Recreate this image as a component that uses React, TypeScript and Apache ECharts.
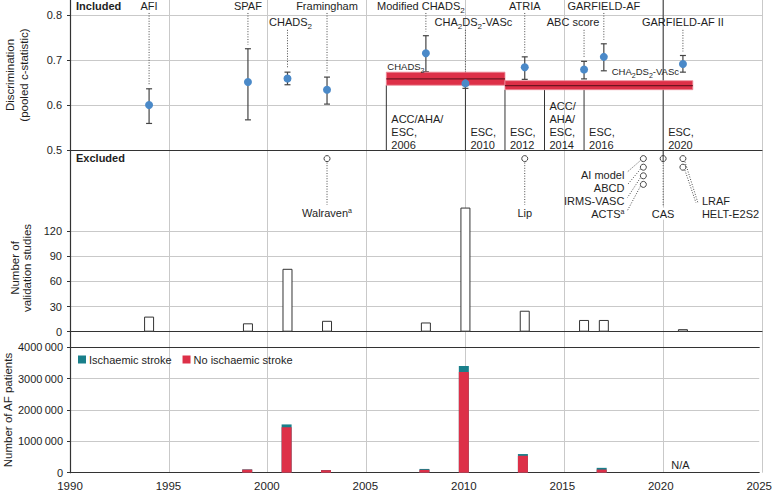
import React, { useEffect, useRef } from "react";
import * as echarts from "echarts";

// ---------------- data ----------------
const yearTicks = [1990, 1995, 2000, 2005, 2010, 2015, 2020, 2025];
const cStatTicks = [0.5, 0.6, 0.7, 0.8];
const studyTicks = [0, 30, 60, 90, 120];
const patientTicks = [0, 1000000, 2000000, 3000000, 4000000];

const includedNames = ["AFI", "SPAF", "CHADS2", "Framingham", "Modified CHADS2", "CHA2DS2-VASc", "ATRIA", "ABC score", "GARFIELD-AF", "GARFIELD-AF II"];
const includedYears = [1994, 1999, 2001, 2003, 2008, 2010, 2013, 2016, 2017, 2021];
const includedCStat = [0.600, 0.651, 0.659, 0.634, 0.715, 0.648, 0.684, 0.679, 0.707, 0.691];
const includedLow = [0.559, 0.567, 0.645, 0.602, 0.674, 0.637, 0.657, 0.658, 0.676, 0.673];
const includedHigh = [0.636, 0.725, 0.673, 0.662, 0.754, 0.659, 0.707, 0.697, 0.736, 0.710];

const bandNames = ["CHADS2", "CHA2DS2-VASc"];
const bandStart = [2006, 2012];
const bandEnd = [2012, 2021.5];
const bandMid = [0.658, 0.643];
const bandLow = [0.644, 0.634];
const bandHigh = [0.673, 0.654];

const guidelineYears = [2006, 2010, 2012, 2014, 2016, 2020];
const guidelineLabels = ["ACC/AHA/\nESC,\n2006", "ESC,\n2010", "ESC,\n2012", "ACC/\nAHA/\nESC,\n2014", "ESC,\n2016", "ESC,\n2020"];

const excludedNames = ["Walraven", "Lip", "AI model", "ABCD", "IRMS-VASC", "ACTS", "CAS", "LRAF", "HELT-E2S2"];
const excludedYears = [2003, 2013, 2019, 2019, 2019, 2019, 2020, 2021, 2021];
const excludedSup = [true, false, false, false, false, true, false, false, false];

const studyYears = [1994, 1999, 2001, 2003, 2008, 2010, 2013, 2016, 2017, 2021];
const studyCounts = [18, 10, 75, 13, 11, 148, 25, 14, 14, 3];

const patientYears = [1999, 2001, 2003, 2008, 2010, 2013, 2017];
const patientsNoStroke = [100000, 1450000, 80000, 90000, 3210000, 540000, 100000];
const patientsStroke = [6000, 90000, 6000, 30000, 190000, 55000, 55000];
const naYear = [2021];

// ---------------- layout / style ----------------
const FONT = "'Liberation Sans', Arial, Helvetica, sans-serif";
const INK = "#1e1e1e";
const AXIS = "#333333";
const GRIDC = "#c9c9c9";
const DOT = "#4a89c8";
const RED = "#dd3048";
const REDLINE = "#6e1420";
const TEAL = "#197f8a";
const LEADER = "#4a4a4a";

const LEFT = 70;
const RIGHT = 13;
const C_MAX = 0.8 + 15 / 450;

const incLabelRow = [0, 0, 1, 0, 0, 1, 0, 1, 0, 1];
const incLabelDx = [0, 0, 3, 0, -5, 8, 0, -11, 0, 0];
const rowLabelValue = [0.82, 0.784];
const rowLeaderTop = [0.8045, 0.767];
const LEADER_GAP = 0.009;

const bandLabelYear = [2006, 2017.35];
const bandLabelDy = [-6, -9];

const guidelineFull = [false, false, false, false, false, true];

const excRow = [0, 0, 0, 1, 2, 3, 0, 0, 1];
const excLabelV = [7.3, 7.3, 2.9, 4.4, 5.9, 7.4, 7.4, 5.9, 7.4];
const excAlign = ["center", "center", "right", "right", "right", "right", "center", "left", "left"];
const excLabelDx = [0, 0, -19, -19, -19, -19, 0, 19, 19];
const excLeaderEnd = [[0, -8], [0, -8], [3, -3], [3, -3], [3, -3], [3, -3], [0, -8], [-4, 2], [-6, -11]];

function richText(name: string, sup = false) {
  const parts = name.replace(/(CHA|DS)2/g, "$1\u0001").split("\u0001");
  let out = parts.map((p) => (p ? `{n|${p}}` : "")).join("{s|2}");
  if (sup) out += "{p|a}";
  return out;
}

function richStyles(size: number, lh: number = size + 6) {
  return {
    n: { fontSize: size, fontFamily: FONT, fill: INK, lineHeight: lh },
    s: { fontSize: Math.round(size * 0.72), fontFamily: FONT, fill: INK, verticalAlign: "bottom", lineHeight: Math.round(size * 0.75) },
    p: { fontSize: Math.round(size * 0.68), fontFamily: FONT, fill: INK, verticalAlign: "top", lineHeight: Math.round(size * 0.72) },
  };
}

const dotted = { stroke: LEADER, lineWidth: 1, lineDash: [1, 1.6] };

function hiddenX(gridIndex: number, extra: any = {}) {
  return {
    type: "value",
    gridIndex,
    min: yearTicks[0],
    max: yearTicks[yearTicks.length - 1],
    interval: 5,
    axisLabel: { show: false },
    axisTick: { show: false },
    splitLine: { show: false },
    axisLine: { show: false },
    ...extra,
  };
}

export default function App() {
  const ref = useRef<HTMLDivElement>(null);
  useEffect(() => {
    if (!ref.current) return;
    const chart = echarts.init(ref.current, undefined, { renderer: "svg" });

    const option: any = {
      animation: false,
      textStyle: { fontFamily: FONT },
      grid: [
        { left: LEFT, right: RIGHT, top: 0, height: 472.7 },
        { left: LEFT, right: RIGHT, top: 0, height: 150 },
        { left: LEFT, right: RIGHT, top: 150, height: 86 },
        { left: LEFT, right: RIGHT, top: 205.9, height: 125.8 },
        { left: LEFT, right: RIGHT, top: 347.3, height: 125.4 },
      ],
      xAxis: [
        hiddenX(0, { splitLine: { show: true, lineStyle: { color: GRIDC, width: 1 } } }),
        hiddenX(1, { axisLine: { show: true, onZero: false, lineStyle: { color: AXIS, width: 1.2 } } }),
        hiddenX(2),
        hiddenX(3, { axisLine: { show: true, onZero: false, lineStyle: { color: AXIS, width: 1.2 } } }),
        hiddenX(4, {
          axisLine: { show: true, onZero: false, lineStyle: { color: AXIS, width: 1.2 } },
          axisLabel: { show: true, color: INK, fontSize: 11.5, fontFamily: FONT, margin: 7, formatter: (v: number) => String(v) },
        }),
        hiddenX(4, { position: "top", axisLine: { show: true, onZero: false, lineStyle: { color: AXIS, width: 1.2 } } }),
      ],
      yAxis: [
        {
          type: "value", gridIndex: 0, min: 0, max: 1,
          axisLine: { show: true, onZero: false, lineStyle: { color: AXIS, width: 1.2 } },
          axisLabel: { show: false }, axisTick: { show: false }, splitLine: { show: false },
        },
        {
          type: "value", gridIndex: 1, min: cStatTicks[0], max: C_MAX, interval: 0.1,
          axisLine: { show: false },
          axisTick: { show: true, length: 3, lineStyle: { color: AXIS }, customValues: cStatTicks },
          axisLabel: {
            color: INK, fontSize: 11, fontFamily: FONT, margin: 8, customValues: cStatTicks,
            formatter: (v: number) => (cStatTicks.some((t) => Math.abs(t - v) < 1e-6) ? v.toFixed(1) : ""),
          },
          splitLine: { show: true, lineStyle: { color: GRIDC } },
        },
        { type: "value", gridIndex: 2, min: 0, max: 10, inverse: true, show: false },
        {
          type: "value", gridIndex: 3, min: 0, max: 150, interval: 30,
          axisLine: { show: false },
          axisTick: { show: true, length: 3, lineStyle: { color: AXIS }, customValues: studyTicks },
          axisLabel: { color: INK, fontSize: 11, fontFamily: FONT, margin: 8, customValues: studyTicks },
          splitLine: { show: true, showMinLine: false, lineStyle: { color: GRIDC } },
        },
        {
          type: "value", gridIndex: 4, min: 0, max: patientTicks[patientTicks.length - 1], interval: 1000000,
          axisLine: { show: false },
          axisTick: { show: true, length: 3, lineStyle: { color: AXIS } },
          axisLabel: {
            color: INK, fontSize: 11, fontFamily: FONT, margin: 7,
            formatter: (v: number) => (v === 0 ? "0" : String(v).replace(/(\d{3})$/, "\u2009$1")),
          },
          splitLine: { show: true, showMinLine: false, lineStyle: { color: GRIDC } },
        },
      ],
      legend: {
        data: ["Ischaemic stroke", "No ischaemic stroke"],
        left: 73, top: 349, icon: "rect", itemWidth: 8, itemHeight: 8, itemGap: 11,
        textStyle: { fontSize: 11, color: INK, fontFamily: FONT, padding: [0, 0, 0, -2] },
      },
      graphic: [
        { type: "text", x: 76, y: 6, style: { text: "Included", fontSize: 11, fontWeight: "bold", fontFamily: FONT, fill: INK, verticalAlign: "middle", textVerticalAlign: "middle" } },
        { type: "text", x: 76, y: 158, style: { text: "Excluded", fontSize: 11, fontWeight: "bold", fontFamily: FONT, fill: INK, verticalAlign: "middle", textVerticalAlign: "middle" } },
        { type: "text", x: 17, y: 75, rotation: Math.PI / 2, style: { text: "Discrimination\n(pooled c-statistic)", fontSize: 11.5, lineHeight: 14.5, fontFamily: FONT, fill: INK, align: "center", textAlign: "center", verticalAlign: "middle", textVerticalAlign: "middle" } },
        { type: "text", x: 21, y: 268, rotation: Math.PI / 2, style: { text: "Number of\nvalidation studies", fontSize: 11.5, lineHeight: 12.5, fontFamily: FONT, fill: INK, align: "center", textAlign: "center", verticalAlign: "middle", textVerticalAlign: "middle" } },
        { type: "text", x: 8, y: 410, rotation: Math.PI / 2, style: { text: "Number of AF patients", fontSize: 11.5, fontFamily: FONT, fill: INK, align: "center", textAlign: "center", verticalAlign: "middle", textVerticalAlign: "middle" } },
      ],
      series: [
        // guideline boxes
        {
          type: "custom", xAxisIndex: 1, yAxisIndex: 1, z: 3,
          data: guidelineYears.map((y, i) => [y, i]),
          renderItem: (params: any, api: any) => {
            const i = params.dataIndex;
            const yr = api.value(0);
            let top = C_MAX;
            if (!guidelineFull[i]) {
              top = Infinity;
              bandStart.forEach((s, b) => {
                if (yr >= s && yr <= bandEnd[b]) top = Math.min(top, bandLow[b]);
              });
            }
            const pt = api.coord([yr, top]);
            const pb = api.coord([yr, cStatTicks[0]]);
            return {
              type: "group",
              children: [
                { type: "line", shape: { x1: pt[0], y1: pt[1], x2: pb[0], y2: pb[1] }, style: { stroke: AXIS, lineWidth: 1 } },
                {
                  type: "text",
                  style: {
                    text: guidelineLabels[i], x: pb[0] + 5, y: pb[1] + 1,
                    align: "left", textAlign: "left", verticalAlign: "bottom", textVerticalAlign: "bottom",
                    fontSize: 11, lineHeight: 13, fontFamily: FONT, fill: INK,
                  },
                },
              ],
            };
          },
        },
        // leaders + error bars
        {
          type: "custom", xAxisIndex: 1, yAxisIndex: 1, z: 4,
          data: includedYears.map((y, i) => [y, includedLow[i], includedHigh[i]]),
          renderItem: (params: any, api: any) => {
            const i = params.dataIndex;
            const x = api.value(0);
            const lo = api.coord([x, api.value(1)]);
            const hi = api.coord([x, api.value(2)]);
            const lt = api.coord([x, rowLeaderTop[incLabelRow[i]]]);
            const lb = api.coord([x, api.value(2) + LEADER_GAP]);
            const es = { stroke: "#444", lineWidth: 1.2 };
            return {
              type: "group",
              children: [
                { type: "line", shape: { x1: lt[0], y1: lt[1], x2: lb[0], y2: lb[1] }, style: dotted },
                { type: "line", shape: { x1: lo[0], y1: lo[1], x2: hi[0], y2: hi[1] }, style: es },
                { type: "line", shape: { x1: lo[0] - 3, y1: lo[1], x2: lo[0] + 3, y2: lo[1] }, style: es },
                { type: "line", shape: { x1: hi[0] - 3, y1: hi[1], x2: hi[0] + 3, y2: hi[1] }, style: es },
              ],
            };
          },
        },
        // recommendation bands
        {
          type: "custom", xAxisIndex: 1, yAxisIndex: 1, z: 5,
          data: bandStart.map((s, i) => [s, bandEnd[i], bandLow[i], bandHigh[i], bandMid[i]]),
          renderItem: (params: any, api: any) => {
            const i = params.dataIndex;
            const a = api.coord([api.value(0), api.value(3)]);
            const b = api.coord([api.value(1), api.value(2)]);
            const m1 = api.coord([api.value(0), api.value(4)]);
            const m2 = api.coord([api.value(1), api.value(4)]);
            const lab = api.coord([bandLabelYear[i], api.value(3)]);
            return {
              type: "group",
              children: [
                { type: "rect", shape: { x: a[0], y: a[1], width: b[0] - a[0], height: b[1] - a[1] }, style: { fill: RED, stroke: "#ec8a98", lineWidth: 0.8 } },
                { type: "line", shape: { x1: m1[0], y1: m1[1], x2: m2[0], y2: m2[1] }, style: { stroke: REDLINE, lineWidth: 1.3 } },
                {
                  type: "text",
                  style: {
                    text: richText(bandNames[i]), rich: richStyles(9.5), x: lab[0] + 1, y: lab[1] + bandLabelDy[i],
                    align: "left", textAlign: "left", verticalAlign: "middle", textVerticalAlign: "middle",
                    fontSize: 9.5, fontFamily: FONT, fill: INK,
                  },
                },
              ],
            };
          },
        },
        // pooled c-statistics
        {
          type: "scatter", xAxisIndex: 1, yAxisIndex: 1, z: 6,
          symbolSize: 8,
          itemStyle: { color: DOT, opacity: 1 },
          data: includedYears.map((y, i) => [y, includedCStat[i]]),
        },
        // included names
        {
          type: "custom", xAxisIndex: 1, yAxisIndex: 1, z: 6,
          data: includedYears.map((y, i) => [y, includedCStat[i]]),
          renderItem: (params: any, api: any) => {
            const i = params.dataIndex;
            const p = api.coord([api.value(0), rowLabelValue[incLabelRow[i]]]);
            return {
              type: "text",
              style: {
                text: richText(includedNames[i]), rich: richStyles(11), x: p[0] + incLabelDx[i], y: p[1],
                align: "center", textAlign: "center", verticalAlign: "middle", textVerticalAlign: "middle",
                fontSize: 11, fontFamily: FONT, fill: INK,
              },
            };
          },
        },
        // excluded models
        {
          type: "custom", xAxisIndex: 2, yAxisIndex: 2, z: 6,
          data: excludedYears.map((y, i) => [y, excRow[i]]),
          renderItem: (params: any, api: any) => {
            const i = params.dataIndex;
            const yr = api.value(0);
            const c = api.coord([yr, api.value(1) + 1]);
            const l = api.coord([yr, excLabelV[i]]);
            const lx = l[0] + excLabelDx[i];
            const ly = l[1];
            const e = excLeaderEnd[i];
            let sx = c[0], sy = c[1] + 4;
            if (excAlign[i] === "right") { sx = c[0] - 3; sy = c[1] + 2; }
            if (excAlign[i] === "left") { sx = c[0] + 2; sy = c[1] + 3; }
            const children: any[] = [
              { type: "line", shape: { x1: sx, y1: sy, x2: lx + e[0], y2: ly + e[1] }, style: dotted },
              { type: "circle", shape: { cx: c[0], cy: c[1], r: 3 }, style: { fill: "#fff", stroke: "#444", lineWidth: 1 } },
            ];
            if (guidelineYears.includes(yr)) {
              const t = api.coord([yr, 0]);
              children.push({ type: "line", shape: { x1: t[0], y1: t[1], x2: c[0], y2: c[1] + 3 }, style: { stroke: AXIS, lineWidth: 1 } });
            }
            children.push({
              type: "text",
              style: {
                text: richText(excludedNames[i], excludedSup[i]), rich: richStyles(11, 12), x: lx, y: ly,
                align: excAlign[i], textAlign: excAlign[i], verticalAlign: "middle", textVerticalAlign: "middle",
                fontSize: 11, fontFamily: FONT, fill: INK, backgroundColor: excAlign[i] === "center" ? "#fff" : undefined,
              },
            });
            return { type: "group", children };
          },
        },
        // validation studies
        {
          type: "bar", xAxisIndex: 3, yAxisIndex: 3, z: 4,
          barWidth: 10,
          itemStyle: { color: "#ffffff", borderColor: AXIS, borderWidth: 1 },
          data: studyYears.map((y, i) => [y, studyCounts[i]]),
        },
        // AF patients: ischaemic stroke drawn as the upper segment (bar to the total, behind)
        {
          name: "Ischaemic stroke", type: "bar", xAxisIndex: 4, yAxisIndex: 4, z: 3,
          barWidth: 10, barGap: "-100%", itemStyle: { color: TEAL },
          data: patientYears.map((y, i) => [y, patientsNoStroke[i] + patientsStroke[i]]),
        },
        {
          name: "No ischaemic stroke", type: "bar", xAxisIndex: 4, yAxisIndex: 4, z: 4,
          barWidth: 10, barGap: "-100%", itemStyle: { color: RED },
          data: patientYears.map((y, i) => [y, patientsNoStroke[i]]),
        },
        {
          type: "custom", xAxisIndex: 4, yAxisIndex: 4, z: 5,
          data: naYear.map((y) => [y, 0]),
          renderItem: (params: any, api: any) => {
            const p = api.coord([api.value(0), api.value(1)]);
            return {
              type: "text",
              style: {
                text: "N/A", x: p[0], y: p[1] - 8,
                align: "center", textAlign: "center", verticalAlign: "middle", textVerticalAlign: "middle",
                fontSize: 11, fontFamily: FONT, fill: INK,
              },
            };
          },
        },
      ],
    };

    chart.setOption(option);
    return () => chart.dispose();
  }, []);

  return <div ref={ref} style={{ position: "fixed", left: 0, top: 0, width: 775, height: 495, background: "#fff" }} />;
}
